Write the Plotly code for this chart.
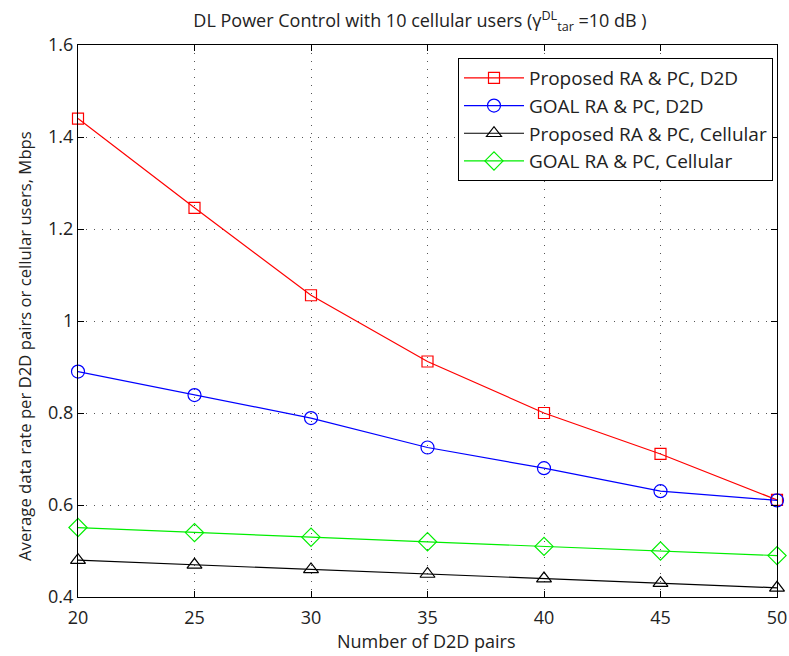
import plotly.graph_objects as go

d2d_pairs = [20, 25, 30, 35, 40, 45, 50]
proposed_d2d = [1.44, 1.246, 1.056, 0.912, 0.80, 0.711, 0.611]
goal_d2d = [0.89, 0.839, 0.789, 0.725, 0.68, 0.63, 0.61]
proposed_cell = [0.48, 0.47, 0.46, 0.45, 0.44, 0.43, 0.42]
goal_cell = [0.551, 0.54, 0.53, 0.52, 0.51, 0.50, 0.49]

series = [
    ("Proposed RA &amp; PC, D2D", proposed_d2d, "#ff0000", "square-open", 11),
    ("GOAL RA &amp; PC, D2D", goal_d2d, "#0000ff", "circle-open", 13),
    ("Proposed RA &amp; PC, Cellular", proposed_cell, "#000000", "triangle-up-open", 13),
    ("GOAL RA &amp; PC, Cellular", goal_cell, "#00ee00", "diamond-open", 14),
]

fig = go.Figure()
for name, ys, col, sym, sz in series:
    fig.add_trace(go.Scatter(
        x=d2d_pairs, y=ys, name=name, mode="lines+markers",
        line=dict(color=col, width=1.2),
        marker=dict(symbol=sym, size=sz, color=col, line=dict(color=col, width=1.2)),
        cliponaxis=False,
    ))

axis_common = dict(
    showline=True, linecolor="black", linewidth=1, mirror="ticks",
    ticks="inside", ticklen=6, tickcolor="black",
    showgrid=True, gridcolor="#555555", griddash="1px,7px", gridwidth=1,
    zeroline=False, tickfont=dict(size=18, color="#222"), automargin=False,
)

W, H = 789, 656
ML, MR, MT, MB = 78, 12, 45, 59
PW, PH = W - ML - MR, H - MT - MB

fig.update_layout(
    width=W, height=H,
    paper_bgcolor="white", plot_bgcolor="white",
    font=dict(family="Open Sans, Noto Sans, sans-serif", color="#222"),
    margin=dict(l=ML, r=MR, t=MT, b=MB),
    title=dict(text="DL Power Control with 10 cellular users (γ<sup>DL</sup><sub>tar</sub> =10 dB )",
               x=420 / W, xanchor="center", xref="container",
               y=1 - 21 / H, yanchor="middle", yref="container",
               font=dict(size=18, color="#222")),
    xaxis=dict(range=[20, 50], tickvals=[20, 25, 30, 35, 40, 45, 50],
               ticklabelstandoff=4, **axis_common),
    yaxis=dict(range=[0.4, 1.6], tickvals=[0.4, 0.6, 0.8, 1.0, 1.2, 1.4, 1.6],
               ticktext=["0.4", "0.6", "0.8", "1", "1.2", "1.4", "1.6"],
               **axis_common),
    legend=dict(x=1 - 4 / PW, xanchor="right", y=1 - 13 / PH, yanchor="top",
                bgcolor="white", bordercolor="black", borderwidth=1,
                font=dict(size=19, color="#222"), tracegroupgap=0,
                itemwidth=60),
    showlegend=True,
    annotations=[
        dict(text="Number of D2D pairs", xref="paper", yref="paper",
             x=(426 - ML) / PW, y=-(641 - (H - MB)) / PH,
             xanchor="center", yanchor="middle",
             showarrow=False, font=dict(size=18, color="#222")),
        dict(text="Average data rate per D2D pairs or cellular users, Mbps", xref="paper", yref="paper",
             x=-(ML - 24) / PW, y=(H - MB - 346) / PH,
             xanchor="center", yanchor="middle",
             textangle=-90, showarrow=False, font=dict(size=16.7, color="#222")),
    ],
)

fig.write_html(
    "out.html",
    config={"displayModeBar": False},
    post_script="document.body.style.margin='0';document.body.style.overflow='hidden';",
)
